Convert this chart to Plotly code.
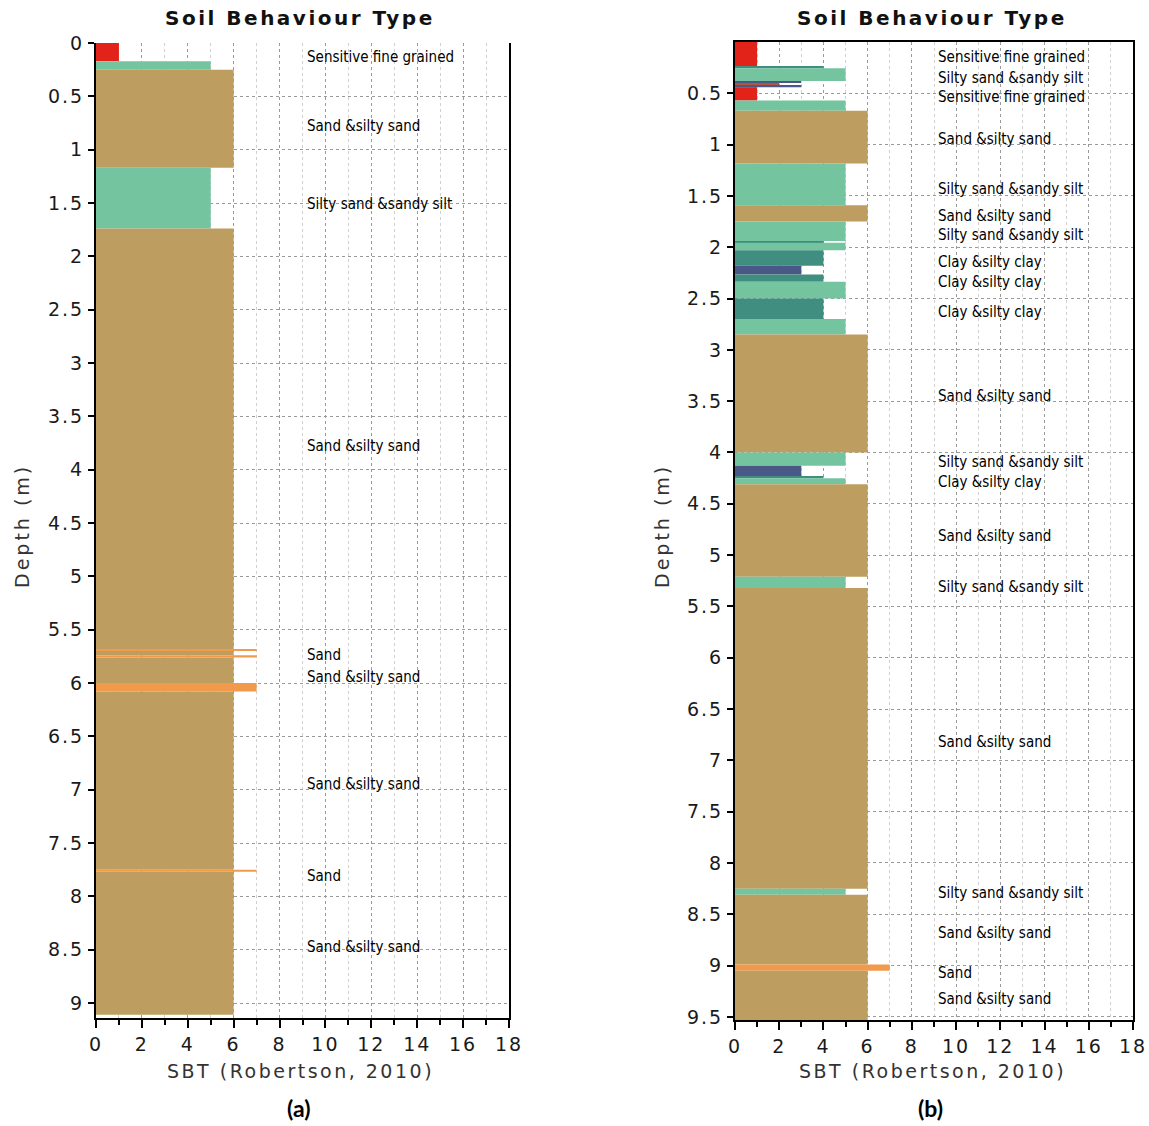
import plotly.graph_objects as go

# ---------------- data ----------------
# Panel (a): layers (top depth, bottom depth, SBT zone)
a_top = [0.00, 0.17, 0.25, 1.17, 1.74, 5.68, 5.70, 5.74, 5.76, 6.00, 6.08, 7.75, 7.77]
a_bot = [0.17, 0.25, 1.17, 1.74, 5.68, 5.70, 5.74, 5.76, 6.00, 6.08, 7.75, 7.77, 9.11]
a_sbt = [1, 5, 6, 5, 6, 7, 6, 7, 6, 7, 6, 7, 6]

# Panel (b)
b_top = [0.00, 0.24, 0.255, 0.38, 0.40, 0.42, 0.44, 0.57, 0.67, 1.185, 1.59, 1.75, 1.94,
         1.955, 2.03, 2.18, 2.265, 2.335, 2.50, 2.70, 2.85, 4.00, 4.13, 4.235, 4.25, 4.31,
         5.21, 5.32, 8.25, 8.31, 8.99, 9.05]
b_bot = [0.24, 0.255, 0.38, 0.40, 0.42, 0.44, 0.57, 0.67, 1.185, 1.59, 1.75, 1.94, 1.955,
         2.03, 2.18, 2.265, 2.335, 2.50, 2.70, 2.85, 4.00, 4.13, 4.235, 4.25, 4.31, 5.21,
         5.32, 8.25, 8.31, 8.99, 9.05, 9.53]
b_sbt = [1, 4, 5, 3, 2, 3, 1, 5, 6, 5, 6, 5, 4, 5, 4, 3, 4, 5, 4, 5, 6, 5, 3, 4, 5, 6,
         5, 6, 5, 6, 7, 6]

# Zone colours
zone_colors = {1: "#E2231A", 2: "#B5543F", 3: "#4A5885", 4: "#3F8E80",
               5: "#74C4A0", 6: "#BD9E60", 7: "#F19A4C"}

# Labels
a_labels = ["Sensitive fine grained", "Sand &silty sand", "Silty sand &sandy silt",
            "Sand &silty sand", "Sand", "Sand &silty sand", "Sand &silty sand",
            "Sand", "Sand &silty sand"]
a_label_depths = [0.13, 0.78, 1.51, 3.78, 5.74, 5.94, 6.95, 7.81, 8.47]

b_labels = ["Sensitive fine grained", "Silty sand &sandy silt", "Sensitive fine grained",
            "Sand &silty sand", "Silty sand &sandy silt", "Sand &silty sand",
            "Silty sand &sandy silt", "Clay &silty clay", "Clay &silty clay",
            "Clay &silty clay", "Sand &silty sand", "Silty sand &sandy silt",
            "Clay &silty clay", "Sand &silty sand", "Silty sand &sandy silt",
            "Sand &silty sand", "Silty sand &sandy silt", "Sand &silty sand",
            "Sand", "Sand &silty sand"]
b_label_depths = [0.15, 0.355, 0.54, 0.95, 1.43, 1.70, 1.88, 2.14, 2.34, 2.63, 3.45,
                  4.09, 4.29, 4.81, 5.31, 6.82, 8.29, 8.68, 9.07, 9.33]

a_yticks = [i * 0.5 for i in range(0, 19)]
b_yticks = [i * 0.5 for i in range(1, 20)]
x_ticks = list(range(0, 19, 2))

title_text = "Soil Behaviour Type"
x_title = "SBT (Robertson, 2010)"
y_title = "Depth (m)"

# ---------------- figure ----------------
W, H = 1149, 1126
fig = go.Figure()


def add_panel(top, bot, sbt, xa, ya):
    centers = [(t + b) / 2 for t, b in zip(top, bot)]
    thick = [b - t for t, b in zip(top, bot)]
    cols = [zone_colors[z] for z in sbt]
    fig.add_trace(go.Bar(orientation="h", x=sbt, y=centers, width=thick,
                         marker=dict(color=cols, line=dict(width=0)),
                         xaxis=xa, yaxis=ya, showlegend=False))


add_panel(a_top, a_bot, a_sbt, "x", "y")
add_panel(b_top, b_bot, b_sbt, "x2", "y2")


def fmt(v):
    return str(int(v)) if float(v).is_integer() else str(v)


def px(x):
    return x / W


def py(y):
    return 1 - y / H


def spaced(s, sp):
    return '<span style="letter-spacing:%.1fpx">%s</span>' % (sp, s)


tickfont = dict(family="DejaVu Sans", size=19, color="#1a1a1a")
common_x = dict(range=[0, 18], tickmode="array", tickvals=x_ticks,
                ticktext=[spaced(str(v), 2) for v in x_ticks], ticks="outside", ticklen=8,
                tickwidth=2, tickcolor="black", showline=True, linecolor="black",
                linewidth=2, showgrid=True, gridcolor="#9a9a9a", griddash="dot",
                gridwidth=1, zeroline=False, tickfont=tickfont, automargin=False,
                minor=dict(dtick=1, tick0=0, ticks="outside", ticklen=5, tickwidth=2,
                           tickcolor="black", showgrid=True, gridcolor="#d0d0d0",
                           griddash="dot", gridwidth=1))
common_y = dict(tickmode="array", ticks="outside", ticklen=6, tickwidth=2,
                tickcolor="black", showline=True, linecolor="black", linewidth=2,
                mirror=True, showgrid=True, gridcolor="#9a9a9a", griddash="dot",
                gridwidth=1, zeroline=False, tickfont=tickfont, automargin=False)

fig.update_layout(
    width=W, height=H, margin=dict(l=0, r=0, t=0, b=0),
    paper_bgcolor="white", plot_bgcolor="white", barmode="overlay",
    xaxis=dict(domain=[px(96), px(509)], anchor="y", **common_x),
    yaxis=dict(domain=[py(1018), py(43)], anchor="x", range=[9.14, 0], tickvals=a_yticks,
               ticktext=[spaced(fmt(v), 2) for v in a_yticks], **common_y),
    xaxis2=dict(domain=[px(735), px(1133)], anchor="y2", mirror=True, **common_x),
    yaxis2=dict(domain=[py(1020), py(42)], anchor="x2", range=[9.53, 0], tickvals=b_yticks,
                ticktext=[spaced(fmt(v), 2) for v in b_yticks], **common_y),
)

labfont = dict(family="DejaVu Sans Condensed, Liberation Sans Narrow", size=15,
               color="black")
for t, d in zip(a_labels, a_label_depths):
    fig.add_annotation(x=9.1, y=d, xref="x", yref="y", text=t, showarrow=False,
                       xanchor="left", yanchor="middle", font=labfont)
for t, d in zip(b_labels, b_label_depths):
    fig.add_annotation(x=9.1, y=d, xref="x2", yref="y2", text=t, showarrow=False,
                       xanchor="left", yanchor="middle", font=labfont)

titlefont = dict(family="DejaVu Sans", size=20, color="#111", weight="bold")
axfont = dict(family="DejaVu Sans", size=19, color="#333")
capfont = dict(family="Lato, Open Sans", size=23, color="black", weight="bold")

for cx, lab, dx in [(300, "(a)", 22), (932, "(b)", 662)]:
    fig.add_annotation(x=px(cx), y=py(18), xref="paper", yref="paper",
                       text=spaced(title_text, 2.5), showarrow=False, xanchor="center",
                       yanchor="middle", font=titlefont)
    fig.add_annotation(x=px(cx), y=py(1071), xref="paper", yref="paper",
                       text=spaced(x_title, 2.5), showarrow=False, xanchor="center",
                       yanchor="middle", font=axfont)
    fig.add_annotation(x=px(cx - 2), y=py(1108), xref="paper", yref="paper",
                       text=lab, showarrow=False, xanchor="center",
                       yanchor="middle", font=capfont)
    fig.add_annotation(x=px(dx), y=py(526), xref="paper", yref="paper",
                       text=spaced(y_title, 3), showarrow=False, xanchor="center",
                       yanchor="middle", textangle=-90, font=axfont)

fig.write_html("out.html", config={"displayModeBar": False},
               post_script="document.body.style.margin='0';"
                           "document.body.style.overflow='hidden';")
